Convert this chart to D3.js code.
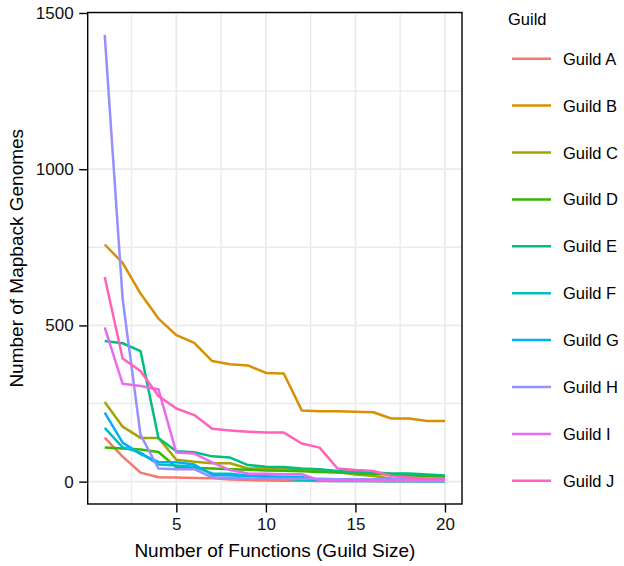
<!DOCTYPE html>
<html>
<head>
<meta charset="utf-8">
<script src="https://cdn.jsdelivr.net/npm/d3@7"></script>
<style>
  body { margin: 0; background: #fff; }
  text { font-family: "Liberation Sans", Arial, Helvetica, sans-serif; }
</style>
</head>
<body>
<div id="chart"></div>
<script>
// guild size on the x axis
const sizes = d3.range(1, 21);
const guilds = ["Guild A", "Guild B", "Guild C", "Guild D", "Guild E",
                "Guild F", "Guild G", "Guild H", "Guild I", "Guild J"];
const colors = ["#F8766D", "#D89000", "#A3A500", "#39B600", "#00BF7D",
                "#00BFC4", "#00B0F6", "#9590FF", "#E76BF3", "#FF62BC"];

// genomes per guild size
const guildA = [141, 80, 29, 14, 13, 12, 11, 7, 5, 4, 3, 3, 2, 2, 2, 1, 1, 1, 1, 1];
const guildB = [759, 700, 602, 522, 469, 444, 386, 376, 372, 348, 346, 228, 225, 225, 224, 222, 202, 202, 194, 194];
const guildC = [255, 176, 140, 140, 70, 64, 59, 59, 42, 42, 42, 40, 37, 31, 23, 18, 10, 8, 6, 5];
const guildD = [109, 106, 103, 95, 46, 44, 42, 40, 38, 36, 35, 33, 31, 29, 27, 25, 22, 20, 18, 16];
const guildE = [450, 443, 418, 140, 97, 94, 81, 77, 53, 48, 47, 42, 40, 34, 31, 29, 26, 26, 23, 20];
const guildF = [172, 110, 93, 55, 52, 48, 26, 25, 20, 15, 10, 5, 3, 2, 2, 2, 1, 1, 1, 1];
const guildG = [221, 125, 88, 63, 62, 55, 22, 20, 18, 17, 16, 15, 5, 4, 4, 3, 3, 3, 2, 2];
const guildH = [1430, 585, 150, 42, 40, 40, 14, 12, 10, 9, 9, 9, 9, 8, 8, 8, 8, 8, 8, 8];
const guildI = [494, 313, 306, 296, 93, 90, 62, 37, 26, 25, 24, 24, 4, 4, 4, 3, 3, 3, 3, 3];
const guildJ = [655, 394, 354, 274, 234, 213, 169, 164, 160, 157, 157, 122, 109, 42, 37, 34, 18, 13, 10, 10];

const xTicks = [5, 10, 15, 20];
const yTicks = [0, 500, 1000, 1500];

const values = [guildA, guildB, guildC, guildD, guildE, guildF, guildG, guildH, guildI, guildJ];
const series = guilds.map((g, i) => ({
  name: g,
  color: colors[i],
  points: sizes.map((s, j) => ({ x: s, y: values[i][j] }))
}));

const W = 624, H = 566;
const panel = { left: 87.7, right: 462, top: 12.5, bottom: 504 };

const svg = d3.select("#chart").append("svg")
  .attr("width", W)
  .attr("height", H);

// ggplot style 5% expansion
const xr = d3.extent(sizes);
const xPad = (xr[1] - xr[0]) * 0.05;
const yMax = d3.max(values, v => d3.max(v));
const yPad = yMax * 0.05;

const x = d3.scaleLinear()
  .domain([xr[0] - xPad, xr[1] + xPad])
  .range([panel.left, panel.right]);

const y = d3.scaleLinear()
  .domain([0 - yPad, yMax + yPad])
  .range([panel.bottom, panel.top]);

// grid
const grid = svg.append("g");
const xMinor = [2.5, 7.5, 12.5, 17.5];
const yMinor = [250, 750, 1250];

grid.selectAll("line.xminor").data(xMinor).join("line")
  .attr("x1", d => x(d)).attr("x2", d => x(d))
  .attr("y1", panel.top).attr("y2", panel.bottom)
  .attr("stroke", "#EBEBEB").attr("stroke-width", 1.4);
grid.selectAll("line.yminor").data(yMinor).join("line")
  .attr("y1", d => y(d)).attr("y2", d => y(d))
  .attr("x1", panel.left).attr("x2", panel.right)
  .attr("stroke", "#EBEBEB").attr("stroke-width", 1.4);
grid.selectAll("line.xmajor").data(xTicks).join("line")
  .attr("x1", d => x(d)).attr("x2", d => x(d))
  .attr("y1", panel.top).attr("y2", panel.bottom)
  .attr("stroke", "#EBEBEB").attr("stroke-width", 1.8);
grid.selectAll("line.ymajor").data(yTicks).join("line")
  .attr("y1", d => y(d)).attr("y2", d => y(d))
  .attr("x1", panel.left).attr("x2", panel.right)
  .attr("stroke", "#EBEBEB").attr("stroke-width", 1.8);

// lines
const line = d3.line()
  .x(d => x(d.x))
  .y(d => y(d.y));

svg.append("g")
  .selectAll("path")
  .data(series)
  .join("path")
  .attr("fill", "none")
  .attr("stroke", d => d.color)
  .attr("stroke-width", 2.5)
  .attr("stroke-linejoin", "round")
  .attr("d", d => line(d.points));

// panel border
svg.append("rect")
  .attr("x", panel.left)
  .attr("y", panel.top)
  .attr("width", panel.right - panel.left)
  .attr("height", panel.bottom - panel.top)
  .attr("fill", "none")
  .attr("stroke", "#000")
  .attr("stroke-width", 1.4);

// axes
const xAxis = svg.append("g")
  .attr("transform", `translate(0,${panel.bottom})`)
  .call(d3.axisBottom(x).tickValues(xTicks).tickFormat(d3.format("d")).tickSize(8.5).tickPadding(5));
const yAxis = svg.append("g")
  .attr("transform", `translate(${panel.left},0)`)
  .call(d3.axisLeft(y).tickValues(yTicks).tickFormat(d3.format("d")).tickSize(8.5).tickPadding(5.5));

[xAxis, yAxis].forEach(a => {
  a.select(".domain").remove();
  a.selectAll(".tick line").attr("stroke", "#000").attr("stroke-width", 1.4);
  a.selectAll(".tick text")
    .attr("fill", "#111")
    .style("font-size", "17px")
    .style("font-family", "'Liberation Sans', Arial, sans-serif");
});

// axis titles
svg.append("text")
  .attr("x", (panel.left + panel.right) / 2)
  .attr("y", 550)
  .attr("text-anchor", "middle")
  .attr("dominant-baseline", "central")
  .style("font-size", "19px")
  .text("Number of Functions (Guild Size)");

svg.append("text")
  .attr("transform", `translate(16,${(panel.top + panel.bottom) / 2}) rotate(-90)`)
  .attr("text-anchor", "middle")
  .attr("dominant-baseline", "central")
  .style("font-size", "19px")
  .text("Number of Mapback Genomes");

// legend
const legend = svg.append("g");
legend.append("text")
  .attr("x", 508)
  .attr("y", 19)
  .attr("dominant-baseline", "central")
  .style("font-size", "16.5px")
  .text("Guild");

const rows = legend.selectAll("g.row")
  .data(series)
  .join("g")
  .attr("transform", (d, i) => `translate(0,${58.7 + i * 46.9})`);

rows.append("line")
  .attr("x1", 512).attr("x2", 551)
  .attr("stroke", d => d.color)
  .attr("stroke-width", 2.5);

rows.append("text")
  .attr("x", 563)
  .attr("dominant-baseline", "central")
  .style("font-size", "16.5px")
  .text(d => d.name);
</script>
</body>
</html>
